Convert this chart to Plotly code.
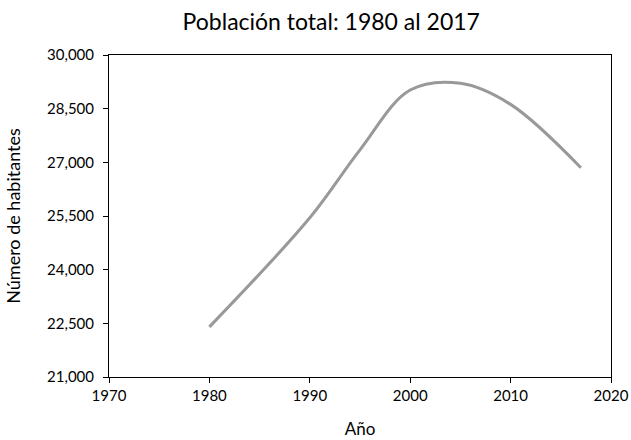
import plotly.graph_objects as go

years = [1980, 1990, 1995, 2000, 2005, 2010, 2017]
population = [22400, 25450, 27350, 29020, 29210, 28620, 26850]

title_text = "Población total: 1980 al 2017"
x_title = "Año"
y_title = "Número de habitantes"

font_family = "Lato, 'Open Sans', sans-serif"

fig = go.Figure()
fig.add_trace(go.Scatter(
    x=years, y=population, mode="lines",
    line=dict(color="#999999", width=3, shape="spline", smoothing=1.0),
    hoverinfo="x+y", showlegend=False,
))

fig.update_layout(
    width=631, height=440,
    paper_bgcolor="white", plot_bgcolor="white",
    margin=dict(l=109, r=20, t=55, b=63, autoexpand=False),
    font=dict(family=font_family, color="#000000"),
    title=dict(text=title_text, x=0.525, xanchor="center", y=0.95, yanchor="middle",
               font=dict(size=23, family=font_family, color="#000000")),
)
fig.update_xaxes(
    range=[1970, 2020], tick0=1970, dtick=10, automargin=False,
    showline=True, linecolor="#000000", linewidth=1, mirror=True,
    ticks="outside", ticklen=5, tickcolor="#000000",
    showgrid=False, zeroline=False,
    tickfont=dict(size=15, family=font_family),
    title=dict(text=x_title, font=dict(size=17, family=font_family), standoff=20),
)
fig.update_yaxes(
    range=[21000, 30000], tick0=21000, dtick=1500, tickformat=",d", automargin=False,
    showline=True, linecolor="#000000", linewidth=1, mirror=True,
    ticks="outside", ticklen=5, tickcolor="#000000", ticklabelstandoff=6,
    showgrid=False, zeroline=False,
    tickfont=dict(size=15, family=font_family),
    title=dict(text=y_title, font=dict(size=18, family=font_family), standoff=21),
)

fig.write_html("out.html", config={"displayModeBar": False},
               post_script="document.body.style.margin='0';document.body.style.overflow='hidden';")
